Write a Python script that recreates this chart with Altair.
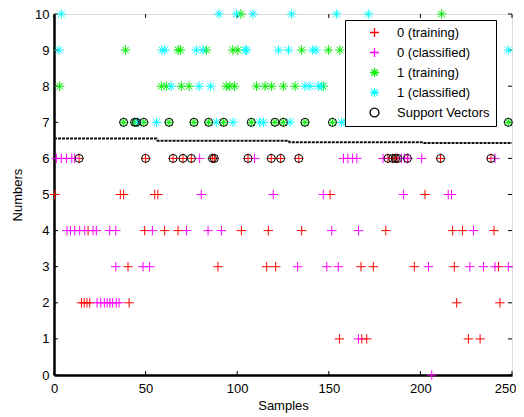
import altair as alt
import pandas as pd

# ---- data ----
# class 0 training (red +)
red_x = [13.7, 50, 65, 70.4, 75, 86.5, 87.5, 105.9, 118.6, 123.7, 133.6, 182.3, 184.9, 186.5, 187.6, 192.9, 211, 238.5,
         0.4, 36.2, 38, 55, 56.7, 150.7, 202.5,
         18.6, 49.5, 60.4, 67.7, 102.3, 117, 135.2, 181.1, 217.6, 223, 240.2,
         40.4, 89.5, 116.1, 121, 167.6, 174.3, 196.7, 218.5, 242.6,
         15, 16.5, 18, 19.5, 41, 219.8, 243.4,
         155.8, 168, 170.7, 226.2, 232.6]
red_y = [6] * 18 + [5] * 7 + [4] * 11 + [3] * 9 + [2] * 7 + [1] * 5

# class 0 classified (magenta +)
mag_x = [1.3, 4, 6.8, 9.7, 11.3, 79.5, 109.5, 158, 160.4, 163, 165.3, 179.6, 189.6, 191.4, 193.2, 200.7, 240.7,
         80.4, 119.7, 147, 190.7, 215.2, 217,
         7.1, 9, 11.3, 14, 16.8, 21.3, 23.1, 30.4, 33.7, 53.7, 72.3, 84.1, 91.4, 151.6, 166.2, 229,
         33.7, 48.6, 52.2, 133, 148.9, 155.2, 204.4, 227, 234.4, 240.7, 248,
         23.5, 25.5, 27.5, 29, 30.5, 32, 34, 35.5,
         166.2,
         206.2]
mag_y = [6] * 17 + [5] * 6 + [4] * 16 + [3] * 11 + [2] * 8 + [1] * 1 + [0] * 1

# class 1 training (green *)
grn_x = [102, 211.6,
         39, 67.8, 69, 83.2, 97.6, 100.4, 135.2, 149.8, 156,
         3.1, 58.6, 61.3, 69.5, 73.7, 94, 96, 98.6, 110.5, 115.2, 118.8, 125.2, 131.6, 147,
         38, 44, 49, 62.8, 76.4, 84.4, 92.6, 107.7, 120.6, 125.2, 137, 152, 168.7, 203.3, 248]
grn_y = [10] * 2 + [9] * 9 + [8] * 14 + [7] * 15

# class 1 classified (cyan *)
cyn_x = [4, 90, 99.6, 108.6, 129.7, 154.3, 171.6,
         2.7, 59, 60.5, 77.7, 81.3, 104.4, 105, 122.5, 128, 141.2, 143, 248,
         64, 79.2, 85.5, 137, 139.8, 144.3, 146,
         46, 56, 88.6, 97.7, 112.3, 114.3, 128.8, 157, 159.6, 164.1, 176, 182.3, 187.8, 196, 198.7,
         218.7, 225, 230.5, 236, 239.6]
cyn_y = [10] * 7 + [9] * 12 + [8] * 7 + [7] * 20

# support vectors (black o)
sv_x = [38, 44, 45, 49, 62.8, 76.4, 84.4, 92.6, 107.7, 120.6, 125.2, 137, 152, 248,
        13.7, 50, 65, 70.4, 75, 86.5, 87.5, 105.9, 118.6, 123.7, 133.6, 182.3, 184.9, 186.5, 187.6, 192.9, 211, 238.5]
sv_y = [7] * 14 + [6] * 18

# decision boundary
bnd_x = [0, 56, 56.5, 128, 128.5, 201.5, 202, 250]
bnd_y = [6.55, 6.55, 6.49, 6.49, 6.45, 6.45, 6.43, 6.43]

x_ticks = [0, 50, 100, 150, 200, 250]
y_ticks = [0, 1, 2, 3, 4, 5, 6, 7, 8, 9, 10]

series_names = ["0 (training)", "0 (classified)", "1 (training)", "1 (classified)", "Support Vectors"]
series_colors = ["#ff0000", "#ff00ff", "#00ee00", "#00ffff", "#000000"]
CROSS = "M-1,0L1,0M0,-1L0,1"
STAR = "M-1,0L1,0M0,-1L0,1M-0.7,-0.7L0.7,0.7M-0.7,0.7L0.7,-0.7"
series_shapes = [CROSS, CROSS, STAR, STAR, "circle"]

W, H = 458, 361

rows = []
for name, xs, ys in [(series_names[0], red_x, red_y), (series_names[1], mag_x, mag_y),
                     (series_names[2], grn_x, grn_y), (series_names[3], cyn_x, cyn_y)]:
    for a, b in zip(xs, ys):
        rows.append({"x": a, "y": b, "series": name})
pts = pd.DataFrame(rows)
sv = pd.DataFrame({"x": sv_x, "y": sv_y, "series": series_names[4]})
bnd = pd.DataFrame({"x": bnd_x, "y": bnd_y})

xscale = alt.Scale(domain=[0, 250], nice=False, zero=False)
yscale = alt.Scale(domain=[0, 10], nice=False, zero=False)
cscale = alt.Scale(domain=series_names, range=series_colors)
sscale = alt.Scale(domain=series_names, range=series_shapes)

last_x = x_ticks[-1]
xaxis = alt.Axis(values=x_ticks, ticks=False, grid=False, labelPadding=7, title="Samples",
                 titlePadding=4, domainColor="black", domainWidth=2.5, labelColor="black",
                 labelOverlap=False, labelFlush=False,
                 labelAlign=alt.condition(f"datum.value == {last_x}", alt.value("right"), alt.value("center")),
                 labelOffset=alt.condition(f"datum.value == {last_x}", alt.value(4), alt.value(0)),
                 titleColor="black", labelFontSize=13, titleFontSize=13, titleFontWeight="normal")
yaxis = alt.Axis(values=y_ticks, ticks=False, grid=False, labelPadding=5, title="Numbers",
                 titlePadding=10, domainColor="black", domainWidth=2.5, labelColor="black",
                 labelOverlap=False, labelFlush=False,
                 titleColor="black", labelFontSize=13, titleFontSize=13, titleFontWeight="normal")

legend = alt.Legend(title=None, orient="none", legendX=291, legendY=6, fillColor="white", strokeColor="black",
                    padding=6, rowPadding=5, labelFontSize=13, labelColor="black", symbolSize=80,
                    symbolStrokeWidth=1.3, symbolOffset=17, labelOffset=16, cornerRadius=0)

X = lambda f: alt.X(f, scale=xscale, axis=xaxis)
Y = lambda f: alt.Y(f, scale=yscale, axis=yaxis)

points = alt.Chart(pts).mark_point(filled=False, size=90, strokeWidth=1, opacity=1).encode(
    x=X("x:Q"), y=Y("y:Q"),
    color=alt.Color("series:N", scale=cscale, legend=legend),
    shape=alt.Shape("series:N", scale=sscale, legend=legend),
)
circles = alt.Chart(sv).mark_point(filled=False, size=64, strokeWidth=1, opacity=1).encode(
    x=X("x:Q"), y=Y("y:Q"),
    color=alt.Color("series:N", scale=cscale, legend=legend),
    shape=alt.Shape("series:N", scale=sscale, legend=legend),
)
line = alt.Chart(bnd).mark_line(color="#111111", strokeWidth=2, strokeDash=[3, 1]).encode(
    x=X("x:Q"), y=Y("y:Q"))

tx = pd.DataFrame({"v": x_ticks})
ty = pd.DataFrame({"v": y_ticks})
tick_b = alt.Chart(tx).mark_rule(color="black", strokeWidth=1).encode(
    x=X("v:Q"), y=alt.value(H), y2=alt.value(H - 4))
tick_t = alt.Chart(tx).mark_rule(color="black", strokeWidth=1).encode(
    x=X("v:Q"), y=alt.value(0), y2=alt.value(4))
tick_l = alt.Chart(ty).mark_rule(color="black", strokeWidth=1).encode(
    y=Y("v:Q"), x=alt.value(0), x2=alt.value(4))
tick_r = alt.Chart(ty).mark_rule(color="black", strokeWidth=1).encode(
    y=Y("v:Q"), x=alt.value(W - 4), x2=alt.value(W))

chart = alt.layer(line, tick_b, tick_t, tick_l, tick_r, points, circles).properties(
    width=W, height=H,
    autosize=alt.AutoSizeParams(type="none"),
    padding={"left": 46, "top": 6, "right": 4, "bottom": 40},
).configure_view(stroke="black", strokeWidth=1).configure_axis(
    labelFont="Liberation Sans", titleFont="Liberation Sans"
).configure_legend(labelFont="Liberation Sans").configure(background="white")

chart.save("out.html", embed_options={"renderer": "svg", "actions": False})
